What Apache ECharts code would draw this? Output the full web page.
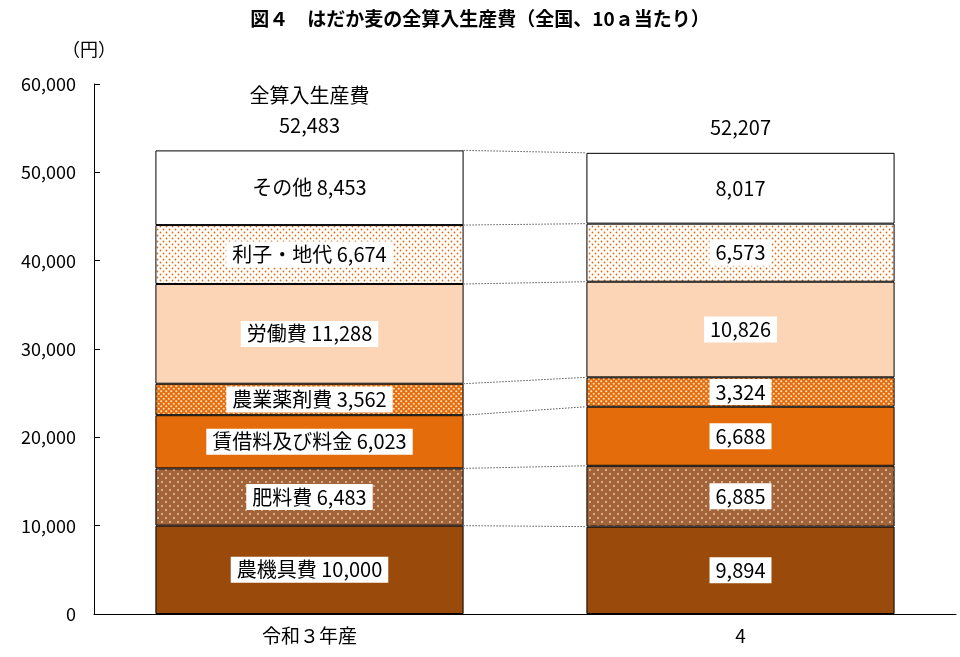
<!DOCTYPE html><html><head><meta charset="utf-8"><script src="https://cdn.jsdelivr.net/npm/echarts@6/dist/echarts.min.js"></script></head><body style="margin:0"><div id="c" style="width:960px;height:657px"></div><script>
const categories=["令和３年産","4"];
const names=["農機具費","肥料費","賃借料及び料金","農業薬剤費","労働費","利子・地代","その他"];
const v1=[10000,6483,6023,3562,11288,6674,8453];
const v2=[9894,6885,6688,3324,10826,6573,8017];
const totals=[52483,52207];
const yTicks=[0,10000,20000,30000,40000,50000,60000];
function pat(bg,dot,step,r){const c=document.createElement('canvas');c.width=c.height=step;const x=c.getContext('2d');x.fillStyle=bg;x.fillRect(0,0,step,step);x.fillStyle=dot;x.beginPath();x.arc(step/4,step/4,r,0,7);x.arc(step*3/4,step*3/4,r,0,7);x.fill();return {image:c,repeat:'repeat'};}
const colors=['#9a4a0a',pat('#a3643a','#e8c8a8',8,1),'#e46c0a',pat('#e46c0a','#ffe0c0',5,1.1),'#fbd5b5',pat('#ffffff','#e46c0a',6,0.9),'#ffffff'];
const fmt=n=>n.toLocaleString('en-US');
const font='"Noto Sans CJK JP"';
const series=names.map((n,i)=>({name:n,type:'bar',stack:'a',barWidth:'71.5%',data:[v1[i],v2[i]],
 itemStyle:{color:colors[i],borderColor:'#000',borderWidth:1},
 label:{show:true,position:'inside',fontFamily:font,fontSize:20,color:'#000',backgroundColor:'#fff',padding:[4,6,2,6],
  formatter:p=>p.dataIndex===0?n+' '+fmt(p.value):fmt(p.value)}}));
series.push({type:'bar',stack:'a',data:[0,0],barWidth:'71.5%',label:{show:true,position:'top',distance:10,fontFamily:font,fontSize:20,color:'#000',lineHeight:30,
 formatter:p=>p.dataIndex===0?'全算入生産費\n'+fmt(totals[0]):fmt(totals[1])}});
const bounds=[];let a=0,b=0;for(let i=0;i<names.length;i++){a+=v1[i];b+=v2[i];bounds.push([a,b]);}
series.push({type:'custom',data:bounds,renderItem:(params,api)=>{const w=api.size([1,0])[0]*0.715;const p1=api.coord([0,api.value(0)]),p2=api.coord([1,api.value(1)]);
 return {type:'line',shape:{x1:p1[0]+w/2,y1:p1[1],x2:p2[0]-w/2,y2:p2[1]},style:{stroke:'#000',lineWidth:1,lineDash:[1,2]}};},z:5});
echarts.init(document.getElementById('c')).setOption({animation:false,
 title:{text:'図４　はだか麦の全算入生産費（全国、10ａ当たり）',left:'center',top:4,textStyle:{fontFamily:font,fontSize:19,fontWeight:'bold',color:'#000'}},
 graphic:[{type:'text',left:62,top:40,style:{text:'（円）',font:'18px '+font,fill:'#000'}}],
 grid:{left:94,right:4,top:84,bottom:43},
 xAxis:{type:'category',data:categories,axisLine:{lineStyle:{color:'#000'}},axisTick:{show:false},axisLabel:{fontFamily:font,fontSize:19,color:'#000',margin:12}},
 yAxis:{type:'value',min:0,max:60000,interval:10000,splitLine:{show:false},axisLine:{show:true,lineStyle:{color:'#000'}},axisTick:{show:true,inside:true,length:6,lineStyle:{color:'#000'}},
  axisLabel:{fontFamily:font,fontSize:18,color:'#000',margin:18,formatter:v=>fmt(v)}},
 series});
</script></body></html>
